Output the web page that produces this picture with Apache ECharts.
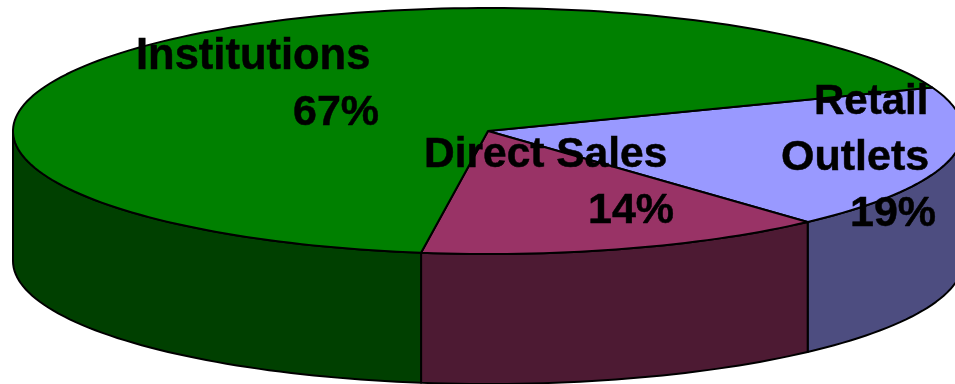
<!DOCTYPE html>
<html>
<head>
<meta charset="utf-8">
<style>html,body{margin:0;padding:0;background:#fff}#chart{width:955px;height:384px}</style>
<script src="https://cdn.jsdelivr.net/npm/echarts@6/dist/echarts.min.js"></script>
</head>
<body>
<div id="chart"></div>
<script>
// Sales channels, listed clockwise from the back right of the pie
const channels = ['Retail\nOutlets', 'Direct Sales', 'Institutions'];
const shares = [19, 14, 67];
const topColors = ['#9999FF', '#993366', '#008000'];
const sideColors = ['#4D4D80', '#4D1A33', '#004000'];

// Projection of the tilted disc
const disc = { cx: 488, cy: 131, rx: 475, ry: 123, depth: 130, startDeg: -20.7 };
const total = shares.reduce((a, b) => a + b, 0);

// Each text line placed by its left edge, vertical middle and font size
const labelLines = [
  [{ x: 814, y: 102, size: 42 }, { x: 781, y: 158, size: 43 }, { x: 850, y: 214, size: 43 }],
  [{ x: 424, y: 155, size: 42.5 }, { x: 588, y: 211, size: 43 }],
  [{ x: 136, y: 57, size: 43.5 }, { x: 293, y: 113, size: 43 }]
];

const rad = d => d * Math.PI / 180;
const rimPoint = (deg, drop) => [
  disc.cx + disc.rx * Math.cos(rad(deg)),
  disc.cy + disc.ry * Math.sin(rad(deg)) + drop
];
function arc(from, to, drop) {
  const pts = [];
  const n = Math.max(2, Math.ceil(Math.abs(to - from) / 1.5));
  for (let k = 0; k <= n; k++) pts.push(rimPoint(from + (to - from) * k / n, drop));
  return pts;
}
const edge = { stroke: '#000', lineWidth: 2, lineJoin: 'round' };

function renderSlice(params, api) {
  const i = params.dataIndex;
  const value = api.value(0);
  const before = shares.slice(0, i).reduce((a, b) => a + b, 0);
  const from = disc.startDeg + before / total * 360;
  const to = from + value / total * 360;
  const children = [];

  // Outer wall: only the front half of the rim (0..180 degrees) faces the viewer
  const wallFrom = Math.max(from, 0);
  const wallTo = Math.min(to, 180);
  if (wallTo > wallFrom) {
    children.push({
      type: 'polygon', z2: 1,
      shape: { points: arc(wallFrom, wallTo, 0).concat(arc(wallTo, wallFrom, disc.depth)) },
      style: Object.assign({ fill: sideColors[i] }, edge)
    });
  }
  // Top face
  children.push({
    type: 'polygon', z2: 2,
    shape: { points: [[disc.cx, disc.cy]].concat(arc(from, to, 0)) },
    style: Object.assign({ fill: topColors[i] }, edge)
  });
  // Name and percentage, above every face
  const lines = channels[i].split('\n').concat(value + '%');
  lines.forEach((text, k) => {
    const spot = labelLines[i][k];
    children.push({
      type: 'text', z2: 10,
      x: spot.x, y: spot.y,
      style: {
        text, fill: '#000', stroke: '#000', lineWidth: 0.5, align: 'left', verticalAlign: 'middle',
        font: 'bold ' + spot.size + 'px "Liberation Sans", Arial, sans-serif'
      }
    });
  });
  return { type: 'group', children };
}

const chart = echarts.init(document.getElementById('chart'));
chart.setOption({
  animation: false,
  backgroundColor: '#fff',
  series: [{
    type: 'custom',
    coordinateSystem: 'none',
    renderItem: renderSlice,
    encode: { value: 0 },
    data: shares.map((v, i) => ({ name: channels[i], value: [v] }))
  }]
});
</script>
</body>
</html>
